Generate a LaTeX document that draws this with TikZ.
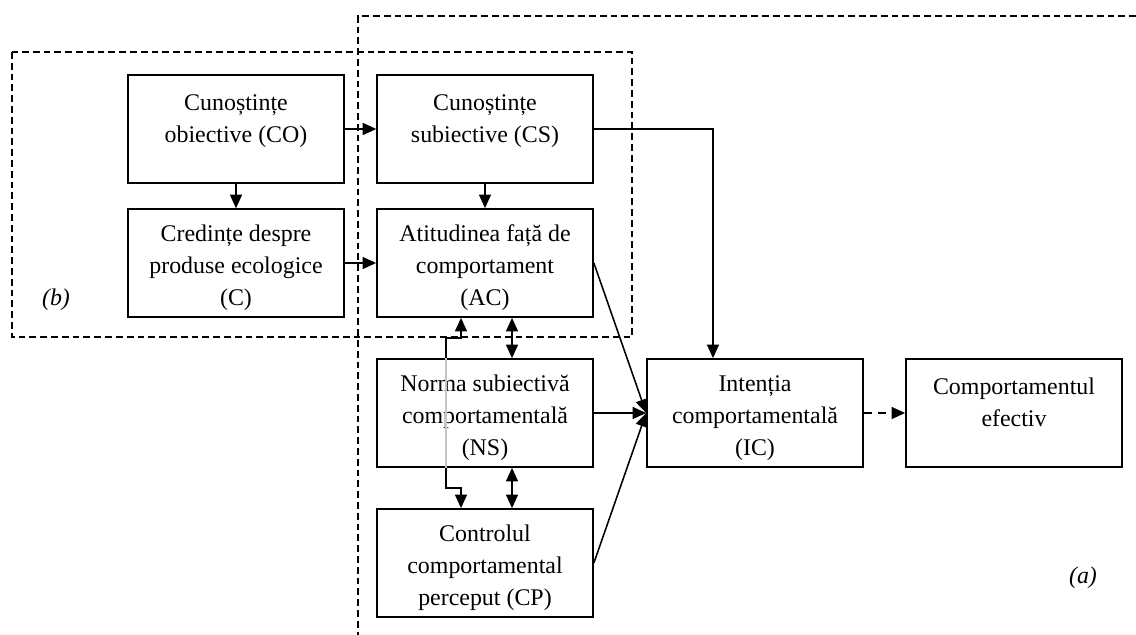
\documentclass[tikz,border=0pt]{standalone}
\usepackage{fontspec}
\setmainfont{Liberation Serif}
\usetikzlibrary{arrows.meta}
\newcommand{\topgap}{\rule{0pt}{19pt}}

\begin{document}
\begin{tikzpicture}[x=0.025cm, y=-0.025cm, >={Triangle[length=0.34cm, width=0.3cm]},
        box/.style={rectangle, draw, line width=0.9pt, minimum width=5.4cm, minimum height=2.7cm, align=center, font=\fontsize{17}{22.7}\selectfont},
        bbox/.style={box, line width=1.2pt},
        arrow/.style={->, line width=1.1pt},
        dbl/.style={<->, line width=1.1pt},
        frame/.style={line width=1.5pt, dash pattern=on 0.17cm off 0.1cm},
        tag/.style={font=\fontsize{17}{22.7}\selectfont\itshape}
    ]
        \useasboundingbox (0,0) rectangle (1136,635);

        % Knowledge and beliefs
        \node (co) [box] at (236,129) {\topgap Cunoștințe \\ obiective (CO) \\ \mbox{}};
        \node (cr) [box] at (236,263) {\topgap Credințe despre \\ produse ecologice \\ (C)};
        \node (cs) [box] at (485,129) {\topgap Cunoștințe \\ subiective (CS) \\ \mbox{}};

        % Antecedents of intention
        \node (ac) [bbox] at (485,263) {\topgap Atitudinea față de \\ comportament \\ (AC)};
        \node (ns) [bbox] at (485,413) {\topgap Norma subiectivă \\ comportamentală \\ (NS)};
        \node (cp) [bbox] at (485,563) {\topgap Controlul \\ comportamental \\ perceput (CP)};

        % Intention and behaviour
        \node (ic) [bbox] at (755,413) {\topgap Intenția \\ comportamentală \\ (IC)};
        \node (ce) [bbox] at (1014,413) {\topgap Comportamentul \\ efectiv \\ \mbox{}};

        % Frames
        \draw[frame] (12,52) rectangle (632,337);
        \draw[frame] (1136,16) -| (358,635);
        \node (lb) [tag] at (56,300) {(b)};
        \node (la) [tag] at (1083,578) {(a)};

        % Knowledge links
        \draw[arrow] (co) -- (cr);
        \draw[arrow] (co) -- (cs);
        \draw[arrow] (cr) -- (ac);
        \draw[arrow] (cs) -- (ac);
        \draw[arrow] (cs.east) -| ([xshift=-1.05cm]ic.north);

        % Correlations (routed behind NS)
        \coordinate (j1) at (446,338);
        \coordinate (j2) at (446,488);
        \draw[dbl] ([xshift=-0.6cm]ac.south) |- (j1) -- (j2) -| ([xshift=-0.6cm]cp.north);
        \draw[gray!45, line width=1.1pt] (j1 |- ns.north) -- (j2 |- ns.south);
        \draw[dbl] ([xshift=0.675cm]ac.south) -- ([xshift=0.675cm]ns.north);
        \draw[dbl] ([xshift=0.675cm]ns.south) -- ([xshift=0.675cm]cp.north);

        % Towards intention
        \draw[arrow] (ac.east) -- (ic.west);
        \draw[arrow] (ns) -- (ic);
        \draw[arrow] (cp.east) -- (ic.west);
        \draw[arrow, dash pattern=on 0.2cm off 0.15cm] (ic) -- (ce);

    \end{tikzpicture}
\end{document}
